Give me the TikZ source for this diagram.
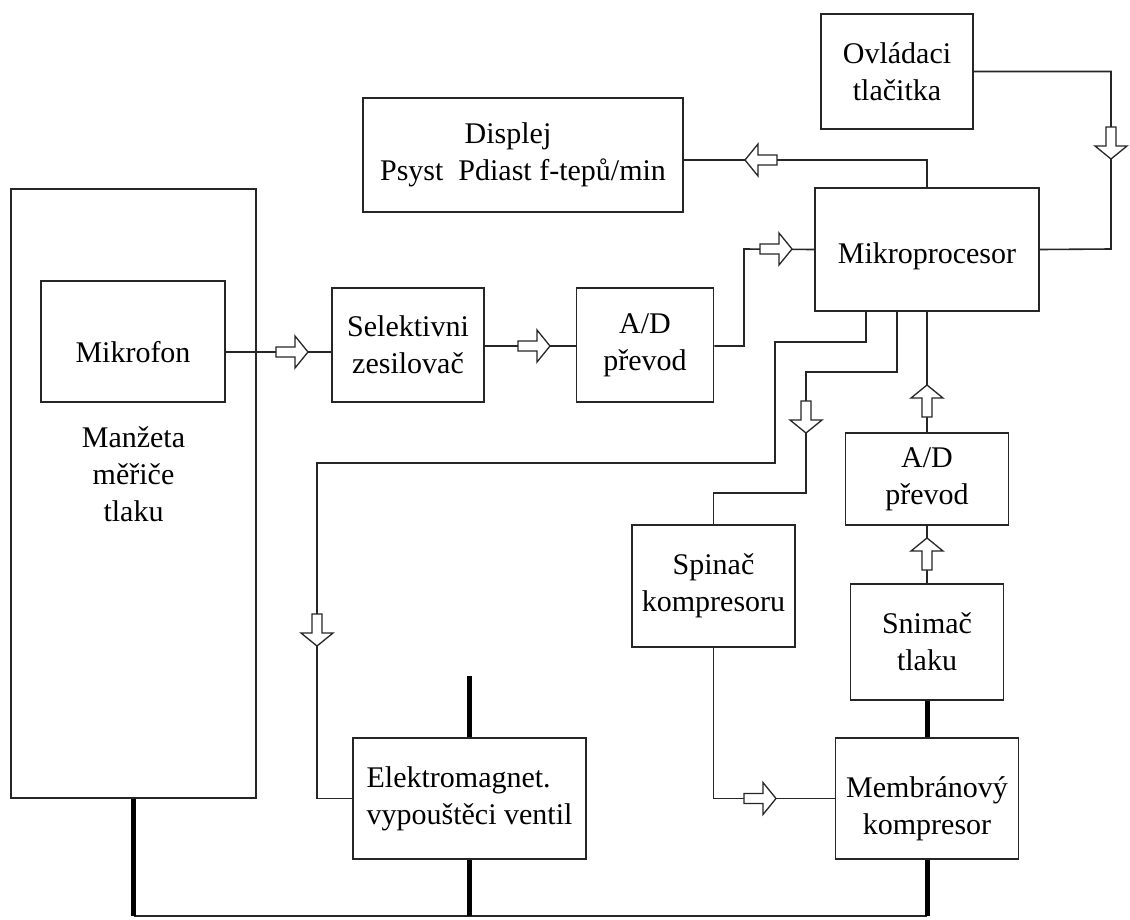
\documentclass[tikz,border=0pt]{standalone}
\usepackage{fontspec}
\setmainfont{Liberation Serif}
\begin{document}
\begin{tikzpicture}[x=1pt,y=-1pt,
  box/.style={draw=black!85, line width=1.8pt, inner sep=0pt, align=center,
    font=\fontsize{30}{37}\selectfont},
  conn/.style={draw=black!85, line width=1.6pt},
  thickline/.style={draw=black, line width=5pt},
  hollowarrow/.pic={\draw[black!85, line width=1.3pt, fill=white]
    (-16,-5) -- (3,-5) -- (3,-16) -- (16,0) -- (3,16) -- (3,5) -- (-16,5) -- cycle;}
]
\fill[white] (0,0) rectangle (1130,919);
\useasboundingbox (0,0) rectangle (1130,919);

% boxes
\node[box, minimum width=245pt, minimum height=609pt,
  label={[name=manzt, align=center, font=\fontsize{30}{37}\selectfont, yshift=19pt]center:{Manžeta\\měřiče\\tlaku}}]
  (manz) at (133.5,493.5) {};
\node[box, minimum width=184pt, minimum height=121pt,
  label={[name=mikt, font=\fontsize{30}{37}\selectfont, yshift=-11pt]center:Mikrofon}]
  (mik) at (133,341.5) {};
\node[box, minimum width=152pt, minimum height=114pt] (sel) at (408,345) {Selektivni\\zesilovač};
\node[box, minimum width=137pt, minimum height=114pt] (ad1) at (645,345) {A/D\\převod};
\node[box, minimum width=320pt, minimum height=114pt] (disp) at (523,155) {Displej\hspace*{30pt}\\Psyst\ \ Pdiast f-tepů/min};
\node[box, minimum width=152pt, minimum height=115pt] (ovl) at (897,71.5) {Ovládaci\\tlačitka};
\node[box, minimum width=224pt, minimum height=123pt,
  label={[name=mpt, font=\fontsize{30}{37}\selectfont, yshift=-7pt]center:Mikroprocesor}]
  (mp) at (927,249.5) {};
\node[box, minimum width=163pt, minimum height=92pt] (ad2) at (927,479) {A/D\\převod};
\node[box, minimum width=163pt, minimum height=122pt] (spin) at (713.5,586) {Spinač\\kompresoru};
\node[box, minimum width=153pt, minimum height=116pt] (snim) at (927,642) {Snimač\\tlaku};
\node[box, minimum width=233pt, minimum height=121pt, align=left] (elek) at (469.5,798.5) {Elektromagnet.\\vypouštěci ventil};
\node[box, minimum width=183pt, minimum height=121pt,
  label={[name=membt, align=center, font=\fontsize{30}{37}\selectfont, yshift=-10pt]center:{Membránový\\kompresor}}]
  (memb) at (927,798.5) {};

% signal connectors
\draw[conn] (mik.east |- 0,352) -- (sel.west |- 0,352);
\draw[conn] (sel.east |- 0,346) -- (ad1.west |- 0,346);
\draw[conn] (ad1.east |- 0,346) -| (744,249) -- (mp.west);
\draw[conn] (ovl.east) -| (1111,249) -- (mp.east);
\draw[conn] (mp.north) |- (disp.east |- 0,160);
\draw[conn] ([xshift=-61pt]mp.south) |- (775,342) |- (317,463) |- (elek.west);
\draw[conn] ([xshift=-30pt]mp.south) |- (806,372) |- (spin.north |- 0,493) -- (spin.north);
\draw[conn] (mp.south) -- (ad2.north);
\draw[conn] (snim.north) -- (ad2.south);
\draw[conn] (spin.south) |- (memb.west);

% pneumatic connections
\coordinate (valvetop) at (469.5,676);
\coordinate (busL) at (133.5,916);
\coordinate (busR) at (927,916);
\draw[conn] (busL) -- (busR);
\draw[thickline] (snim.south) -- (memb.north);
\draw[thickline] (valvetop) -- (elek.north);
\draw[thickline] (elek.south) -- (elek.south |- busL);
\draw[thickline] (manz.south) -- (busL);
\draw[thickline] (memb.south) -- (busR);

% hollow arrows
\pic at (292,352) {hollowarrow};
\pic at (534,346) {hollowarrow};
\pic at (776,249) {hollowarrow};
\pic[rotate=180] at (761,160) {hollowarrow};
\pic[rotate=-90] at (1111,143) {hollowarrow};
\pic[rotate=-90] at (317,630) {hollowarrow};
\pic[rotate=-90] at (806,417) {hollowarrow};
\pic[rotate=90] at (927,401) {hollowarrow};
\pic[rotate=90] at (927,554) {hollowarrow};
\pic at (760,798.5) {hollowarrow};
\end{tikzpicture}
\end{document}
